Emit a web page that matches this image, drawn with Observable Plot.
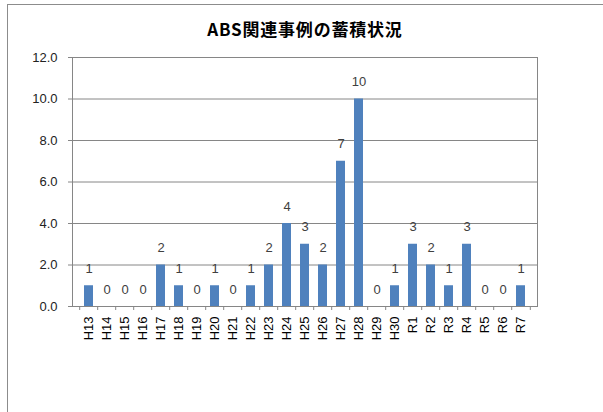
<!DOCTYPE html>
<html>
<head>
<meta charset="utf-8">
<script src="https://cdn.jsdelivr.net/npm/d3@7"></script>
<script src="https://cdn.jsdelivr.net/npm/@observablehq/plot@0.6"></script>
<style>
html, body { margin: 0; padding: 0; background: #fff; overflow: hidden; }
#wrap { position: relative; width: 603px; height: 412px; overflow: hidden; }
#outer { position: absolute; left: 7px; top: 4px; width: 700px; height: 600px;
  border-left: 1px solid #8c8c8c; border-top: 1px solid #8c8c8c; box-sizing: border-box; }
#title { position: absolute; left: 0; width: 610px; top: 18px; text-align: center;
  font-family: "Noto Sans CJK JP", sans-serif; font-weight: bold; font-size: 17px;
  color: #000; line-height: 22px; letter-spacing: 0.8px; }
#chart { position: absolute; left: 0; top: 0; }
</style>
</head>
<body>
<div id="wrap">
  <div id="outer"></div>
  <div id="title">ABS関連事例の蓄積状況</div>
  <div id="chart"></div>
</div>
<script>
const categories = ["H13","H14","H15","H16","H17","H18","H19","H20","H21","H22","H23","H24","H25","H26","H27","H28","H29","H30","R1","R2","R3","R4","R5","R6","R7"];
const counts = [1,0,0,0,2,1,0,1,0,1,2,4,3,2,7,10,0,1,3,2,1,3,0,0,1];
const yTicks = [0, 2, 4, 6, 8, 10, 12];

const data = categories.map((c, i) => ({cat: c, value: counts[i]}));

const W = 603, H = 412;
const mL = 72, mR = 66, mT = 57, mB = 106;
const step = (W - mL - mR) / categories.length;
const font = "Liberation Sans, Arial, sans-serif";

const chart = Plot.plot({
  width: W,
  height: H,
  marginLeft: mL,
  marginRight: mR,
  marginTop: mT,
  marginBottom: mB,
  style: {fontFamily: font, fontSize: "13px", background: "transparent", overflow: "visible"},
  x: {domain: categories, paddingInner: 0.5, paddingOuter: 0.25, axis: null},
  y: {domain: [0, 12], axis: null},
  marks: [
    Plot.gridY(yTicks, {stroke: "#868686", strokeOpacity: 1}),
    Plot.frame({stroke: "#868686"}),
    Plot.axisY(yTicks, {tickSize: 4, tickPadding: 11, tickFormat: d3.format(".1f"), stroke: "#868686", fill: "#222", fontSize: 13, label: null}),
    Plot.axisX({tickSize: 4, dx: -step / 2, tickFormat: () => null, stroke: "#868686", label: null}),
    Plot.axisX([categories[categories.length - 1]], {tickSize: 4, dx: step / 2, tickFormat: () => null, stroke: "#868686", label: null}),
    Plot.axisX({tickSize: 0, tickPadding: 10, tickRotate: -90, fill: "#000", fontSize: 13, label: null}),
    Plot.barY(data, {x: "cat", y: "value", fill: "#4f81bd"}),
    Plot.text(data, {x: "cat", y: "value", text: d => String(d.value), dy: -17, fill: "#404040", fontSize: 13})
  ]
});
document.getElementById("chart").appendChild(chart);
</script>
</body>
</html>
